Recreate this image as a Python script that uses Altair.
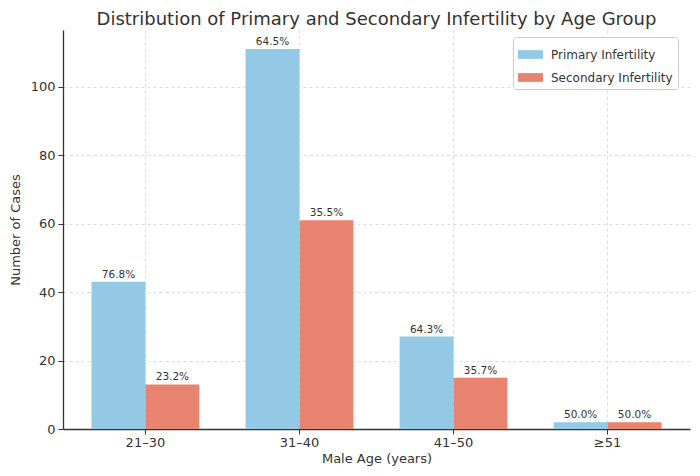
import altair as alt
import pandas as pd

ages = ["21–30", "31–40", "41–50", "≥51"]
primary = [43, 111, 27, 2]
secondary = [13, 61, 15, 2]
series = ["Primary Infertility", "Secondary Infertility"]
colors = ["#93C9E5", "#E8836F"]
y_ticks = [0, 20, 40, 60, 80, 100]

rows = []
for a, p, s in zip(ages, primary, secondary):
    tot = p + s
    rows.append({"age": a, "type": series[0], "count": p, "label": f"{p / tot * 100:.1f}%"})
    rows.append({"age": a, "type": series[1], "count": s, "label": f"{s / tot * 100:.1f}%"})
df = pd.DataFrame(rows)

FONT = "DejaVu Sans"
TXT = "#333333"

x = alt.X(
    "age:N",
    sort=ages,
    scale=alt.Scale(paddingInner=0.3, paddingOuter=0.185),
    axis=alt.Axis(
        title="Male Age (years)",
        labelAngle=0,
        labelFontSize=13,
        labelColor=TXT,
        labelFont=FONT,
        labelPadding=2,
        titleFontSize=13,
        titleFont=FONT,
        titleColor=TXT,
        titleFontWeight="normal",
        titlePadding=3,
        tickSize=5,
        tickColor=TXT,
        domainColor=TXT,
        domainWidth=1.3,
        grid=True,
        gridDash=[3, 3],
        gridColor="#dddddd",
        bandPosition=0.5,
    ),
)
xo = alt.XOffset("type:N", sort=series, scale=alt.Scale(paddingInner=0, paddingOuter=0))
y = alt.Y(
    "count:Q",
    scale=alt.Scale(domain=[0, 116.55], nice=False, zero=True),
    axis=alt.Axis(
        title="Number of Cases",
        values=y_ticks,
        labelFontSize=13,
        labelColor=TXT,
        labelFont=FONT,
        labelPadding=3,
        titleFontSize=13,
        titleFont=FONT,
        titleColor=TXT,
        titleFontWeight="normal",
        titlePadding=8,
        tickSize=5,
        tickColor=TXT,
        domainColor=TXT,
        domainWidth=1.3,
        grid=True,
        gridDash=[3, 3],
        gridColor="#dddddd",
    ),
)

color = alt.Color(
    "type:N",
    sort=series,
    scale=alt.Scale(domain=series, range=colors),
    legend=alt.Legend(
        title=None,
        orient="none",
        legendX=450,
        legendY=7,
        fillColor="white",
        strokeColor="#cccccc",
        cornerRadius=3,
        padding=5,
        labelFontSize=12,
        labelFont=FONT,
        labelColor=TXT,
        labelOffset=8,
        rowPadding=4,
        symbolType="M-1,-0.35H1V0.35H-1Z",
        symbolSize=625,
        symbolStrokeWidth=0,
        symbolOpacity=1,
    ),
)

bars = alt.Chart(df).mark_bar().encode(x=x, xOffset=xo, y=y, color=color)
labels = alt.Chart(df).mark_text(
    baseline="bottom", dy=-2, fontSize=10.5, font=FONT, color=TXT
).encode(x=x, xOffset=xo, y=y, text="label:N")

chart = (
    alt.layer(bars, labels)
    .properties(
        width=627,
        height=399,
        title=alt.Title(
            "Distribution of Primary and Secondary Infertility by Age Group",
            fontSize=18,
            font=FONT,
            color=TXT,
            fontWeight="normal",
            anchor="middle",
            frame="group",
            offset=1,
        ),
        autosize=alt.AutoSizeParams(type="none"),
        padding={"left": 55, "top": 22, "right": 2, "bottom": 47},
        background="white",
    )
    .configure_view(stroke=None)
)

chart.save("out.html", embed_options={"renderer": "svg", "actions": False})
